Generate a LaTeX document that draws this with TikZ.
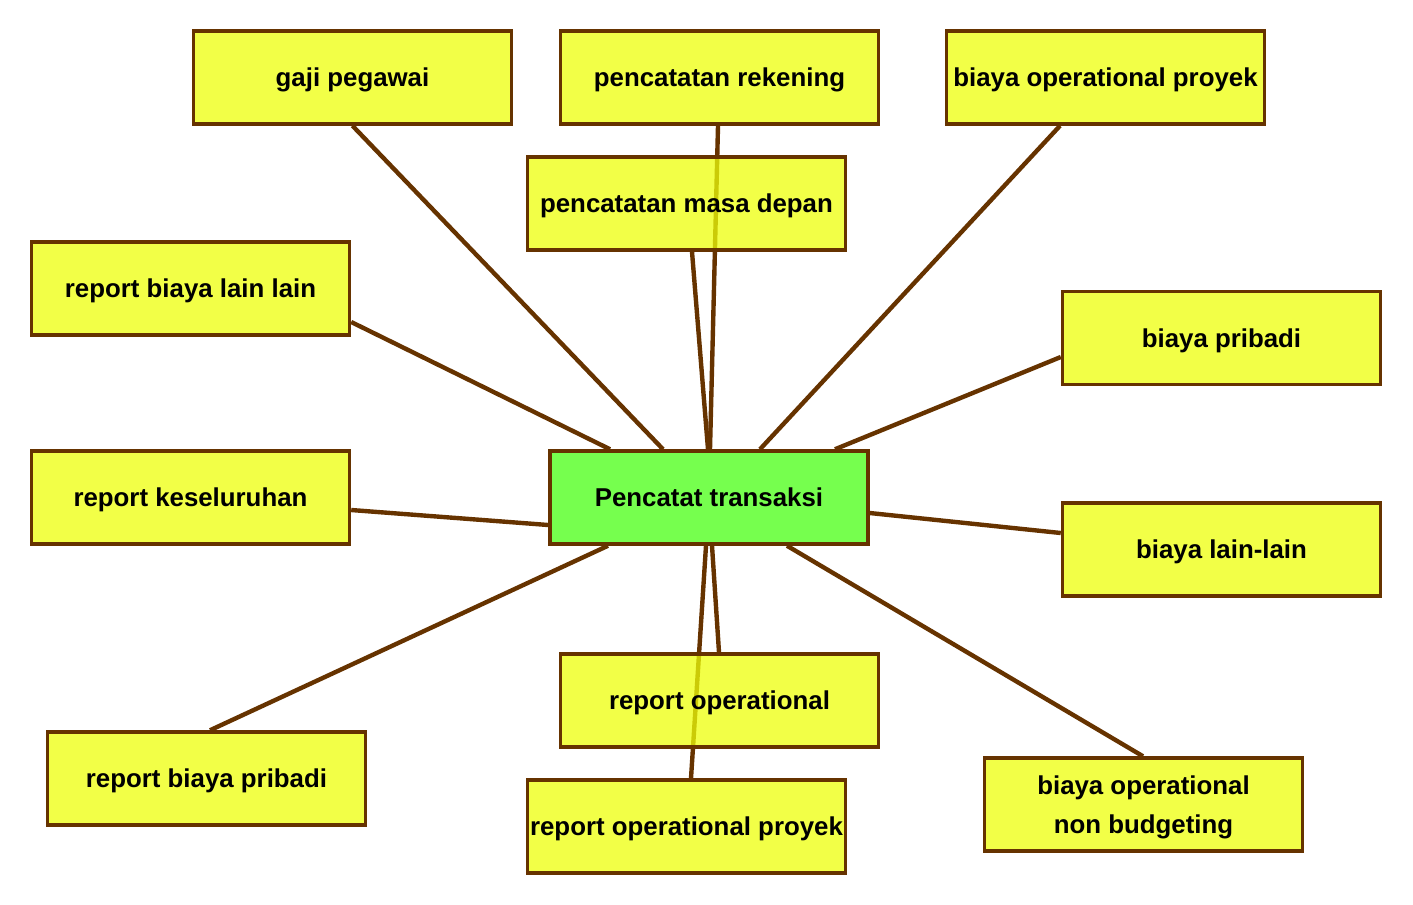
\documentclass[tikz,border=0pt]{standalone}
\usepackage{fontspec}
\setmainfont{Liberation Sans}
\usetikzlibrary{calc,backgrounds}
\definecolor{edgebrown}{HTML}{663300}
\definecolor{boxyellow}{RGB}{238,255,10}
\definecolor{boxgreen}{HTML}{76FF4E}
\tikzset{
  box/.style={draw=edgebrown, line width=2pt, fill=boxyellow, fill opacity=0.75, text opacity=1,
    minimum width=6.36cm, minimum height=1.86cm, inner sep=0pt, align=center, text depth=0pt,
    font=\fontsize{14.7pt}{22.5pt}\selectfont\bfseries, text=black},
  mainbox/.style={box, fill=boxgreen, fill opacity=1},
  link/.style={draw=edgebrown, line width=2.5pt}
}
\begin{document}
\begin{tikzpicture}[x=0.02cm,y=-0.02cm]
\useasboundingbox (0,0) rectangle (1413,904);
\node[mainbox] (c) at (709,497.5) {Pencatat transaksi};
\node[box] (gaji) at (352.5,77.5) {gaji pegawai};
\node[box] (rek) at (719.5,77.5) {pencatatan rekening};
\node[box] (bop) at (1105.5,77.5) {biaya operational proyek};
\node[box] (masa) at (686.5,203.5) {pencatatan masa depan};
\node[box] (rbl) at (190.5,288.5) {report biaya lain lain};
\node[box] (bp) at (1221.5,338) {biaya pribadi};
\node[box] (rk) at (190.5,497.5) {report keseluruhan};
\node[box] (bll) at (1221.5,549.5) {biaya lain-lain};
\node[box] (rop) at (719.5,700.5) {report operational};
\node[box] (rbp) at (206.5,778.5) {report biaya pribadi};
\node[box] (nb) at (1143.5,804.5) {biaya operational\\non budgeting};
\node[box] (ropp) at (686.5,826.5) {report operational proyek};
\begin{scope}[on background layer]
\draw[link] (gaji.south) -- ($(c.north)+(-46,0)$);
\draw[link] ($(rek.south)+(-1.5,0)$) -- ($(c.north)+(1,0)$);
\draw[link] ($(bop.south)+(-45.5,0)$) -- ($(c.north)+(51,0)$);
\draw[link] ($(masa.south)+(5.5,0)$) -- ($(c.north)+(-1,0)$);
\draw[link] ($(rbl.east)+(0,33.5)$) -- ($(c.north)+(-99,0)$);
\draw[link] ($(bp.west)+(0,19)$) -- ($(c.north)+(126,0)$);
\draw[link] ($(rk.east)+(0,12.5)$) -- ($(c.west)+(0,27.5)$);
\draw[link] ($(bll.west)+(0,-16.5)$) -- ($(c.east)+(0,15.5)$);
\draw[link] ($(rbp.north)+(3.5,0)$) -- ($(c.south)+(-101,0)$);
\draw[link] ($(rop.north)+(-0.5,0)$) -- ($(c.south)+(3,0)$);
\draw[link] ($(ropp.north)+(4.5,0)$) -- ($(c.south)+(-3,0)$);
\draw[link] ($(nb.north)+(-0.5,0)$) -- ($(c.south)+(78,0)$);
\end{scope}
\end{tikzpicture}
\end{document}
